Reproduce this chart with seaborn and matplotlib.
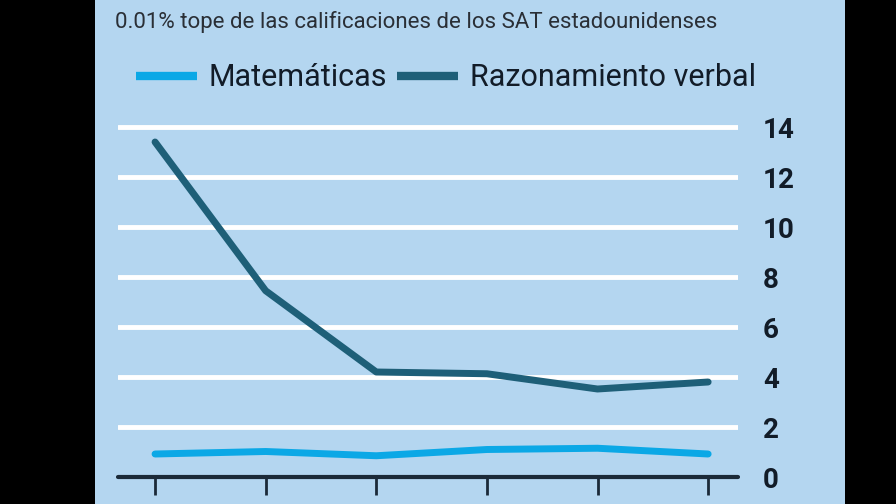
import pandas as pd
import numpy as np
import seaborn as sns
import matplotlib.pyplot as plt
from matplotlib.patches import Rectangle

# values
puntos = [0, 1, 2, 3, 4, 5]
matematicas = [0.92, 1.02, 0.85, 1.1, 1.15, 0.92]
verbal = [13.4, 7.45, 4.2, 4.13, 3.52, 3.8]
y_ticks = [0, 2, 4, 6, 8, 10, 12, 14]

df = pd.DataFrame({
    'x': puntos * 2,
    'valor': matematicas + verbal,
    'serie': ['Matemáticas'] * 6 + ['Razonamiento verbal'] * 6,
})

bg = '#b4d6f0'
sns.set_theme(style='white')
plt.rcParams['font.family'] = ['Liberation Sans Narrow', 'Roboto', 'DejaVu Sans']

fig = plt.figure(figsize=(8.96, 5.04), dpi=100)
fig.patch.set_facecolor('black')
fig.add_artist(Rectangle((95 / 896, 0), 750 / 896, 1, transform=fig.transFigure,
                         facecolor=bg, edgecolor='none', zorder=0))

ax = fig.add_axes([118 / 896, 27 / 504, 620 / 896, 362.5 / 504])
ax.set_facecolor('none')
sns.lineplot(data=df, x='x', y='valor', hue='serie', ax=ax, linewidth=5,
             palette={'Matemáticas': '#0ba8e6', 'Razonamiento verbal': '#1e5f78'},
             legend=False, zorder=3)

ax.set_xlim(-0.335, 5.27)
ax.set_ylim(0, 14.5)
ax.set_yticks(y_ticks)
for t in y_ticks[1:]:
    ax.axhline(t, color='white', linewidth=3.5, zorder=1)
ax.axhline(0, color='#1b2a38', linewidth=3, zorder=2, clip_on=False)
for s in ax.spines.values():
    s.set_visible(False)
ax.set_xticks(puntos)
ax.set_xticklabels([])
ax.tick_params(axis='x', bottom=True, length=13, width=2, color='#1b2a38', direction='out')
ax.yaxis.tick_right()
ax.tick_params(axis='y', right=False, pad=12, labelsize=20, labelcolor='#121c28')
for lab in ax.get_yticklabels():
    lab.set_fontweight('bold')
ax.set_xlabel('')
ax.set_ylabel('')

fig.text(115 / 896, 1 - 22 / 504, '0.01% tope de las calificaciones de los SAT estadounidenses',
         fontsize=16, color='#2a2f36', va='center')

handles = [plt.Line2D([], [], color='#0ba8e6', linewidth=6, solid_capstyle='butt'),
           plt.Line2D([], [], color='#1e5f78', linewidth=6, solid_capstyle='butt')]
fig.legend(handles, ['Matemáticas', 'Razonamiento verbal'], ncol=2, frameon=False,
           loc='center left', bbox_to_anchor=(108 / 896, 1 - 78 / 504), fontsize=22,
           handlelength=2.0, handletextpad=0.4, columnspacing=0.3, labelcolor='#121c28')

fig.savefig('out.png', dpi=100, facecolor=fig.get_facecolor())
